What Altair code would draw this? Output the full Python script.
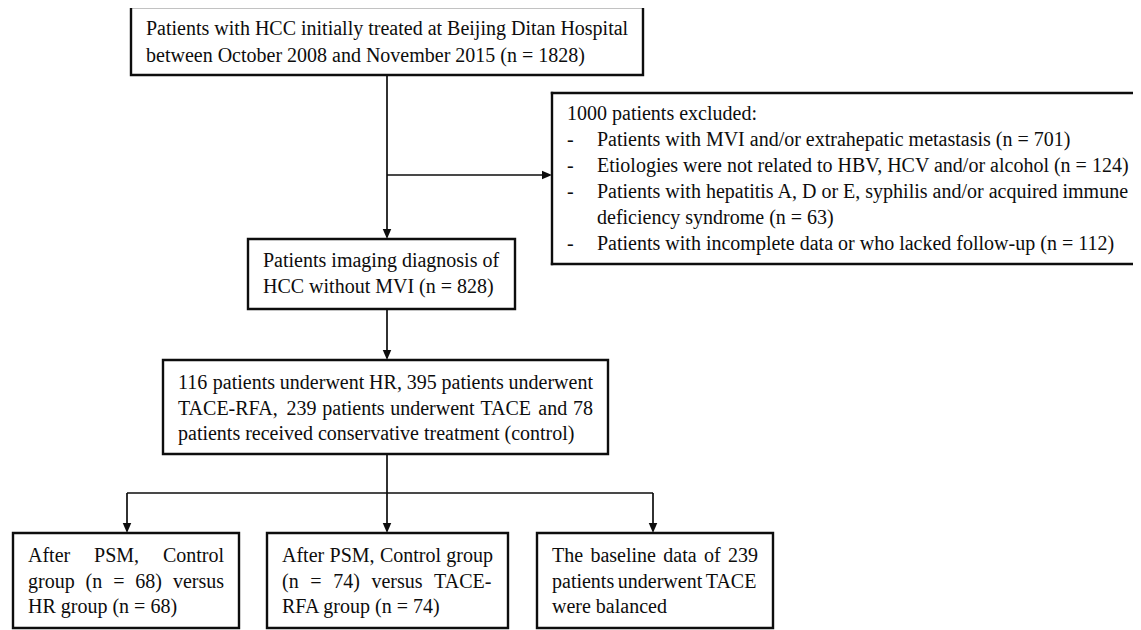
import altair as alt
import pandas as pd

FONT = "Liberation Serif"
FS = 20
FS_EXCL = 20

# ---------------- texts ----------------
box1_text = ["Patients with HCC initially treated at Beijing Ditan Hospital",
             "between October 2008 and November 2015 (n = 1828)"]
excl_title = "1000 patients excluded:"
excl_items = ["Patients with MVI and/or extrahepatic metastasis (n = 701)",
              "Etiologies were not related to HBV, HCV and/or alcohol (n = 124)",
              "Patients with hepatitis A, D or E, syphilis and/or acquired immune",
              "deficiency syndrome (n = 63)",
              "Patients with incomplete data or who lacked follow-up (n = 112)"]
excl_bullets = ["-", "-", "-", "", "-"]
box2_text = ["Patients imaging diagnosis of", "HCC without MVI (n = 828)"]
box3_text = ["116 patients underwent HR, 395 patients underwent",
             "TACE-RFA, 239 patients underwent TACE and 78",
             "patients received conservative treatment (control)"]
box4_text = ["After PSM, Control", "group (n = 68) versus", "HR group (n = 68)"]
box5_text = ["After PSM, Control group", "(n = 74) versus TACE-", "RFA group (n = 74)"]
box6_text = ["The baseline data of 239", "patients underwent TACE", "were balanced"]

# ---------------- layout (screen pixels) ----------------
# name, left, right, top, bottom, first baseline, line gap, justify all but last line
boxes = [
    ("box1", 131, 643, 7, 75, 35, 27, False, box1_text),
    ("box2", 248, 515, 239, 309, 267, 26, False, box2_text),
    ("box3", 163, 608, 360, 454, 389, 25.5, True, box3_text),
    ("box4", 13, 239, 533, 628, 562, 25.5, True, box4_text),
    ("box5", 267, 508, 533, 628, 562, 25.5, True, box5_text),
    ("box6", 537, 773, 533, 628, 562, 25.5, True, box6_text),
]
PW, PH = 1125, 622
# exclusion box runs off the right edge: left, right (page edge), top, bottom, baseline, gap
excl_box = (552, 8 + PW, 93, 264, 120, 26)
PAD = 15

segments = [(387, 75, 387, 232), (387, 175, 545, 175), (387, 309, 387, 353),
            (387, 454, 387, 526), (127, 493, 653, 493), (127, 493, 127, 526),
            (653, 493, 653, 526)]
down_tips = [(387, 239), (387, 360), (127, 533), (387, 533), (653, 533)]
right_tips = [(552, 175)]

# Times-compatible advance widths (per 1000 em)
W = {" ": 250, "(": 333, ")": 333, ",": 250, "-": 333, ".": 250, "/": 278, ":": 278,
     "=": 564, "A": 722, "B": 667, "C": 667, "D": 722, "E": 611, "F": 556, "G": 722,
     "H": 722, "I": 333, "M": 889, "N": 722, "O": 722, "P": 556, "R": 667, "S": 556,
     "T": 611, "V": 722, "a": 444, "b": 500, "c": 444, "d": 500, "e": 444, "f": 333,
     "g": 500, "h": 500, "i": 278, "j": 278, "k": 500, "l": 278, "m": 778, "n": 500,
     "o": 500, "p": 500, "q": 500, "r": 333, "s": 389, "t": 278, "u": 500, "v": 500,
     "w": 722, "x": 500, "y": 500, "z": 444}


def tw(s):
    return sum(W.get(c, 500) for c in s) * FS / 1000


rects, texts = [], []
for name, l, r, t, b, base, gap, just, lines in boxes:
    rects.append({"x0": l, "x1": r, "y0": t, "y1": b})
    left, width = l + PAD, (r - l) - 2 * PAD
    for i, line in enumerate(lines):
        y = base + i * gap
        if just and i < len(lines) - 1:
            words = line.split(" ")
            total = sum(tw(w) for w in words)
            g = (width - total) / (len(words) - 1)
            xx = left
            for w in words:
                texts.append({"x": xx, "y": y, "t": w, "fs": FS})
                xx += tw(w) + g
        else:
            texts.append({"x": left, "y": y, "t": line, "fs": FS})

el, er, et, eb, ebase, egap = excl_box
edges = [(el, et, er, et), (el, eb, er, eb), (el, et, el, eb)]
texts.append({"x": el + PAD, "y": ebase, "t": excl_title, "fs": FS_EXCL})
for i, (bul, item) in enumerate(zip(excl_bullets, excl_items)):
    y = ebase + (i + 1) * egap
    if bul:
        texts.append({"x": el + PAD, "y": y, "t": bul, "fs": FS_EXCL})
    texts.append({"x": el + PAD + 30, "y": y, "t": item, "fs": FS_EXCL})

rect_df = pd.DataFrame(rects)
text_df = pd.DataFrame(texts)
seg_df = pd.DataFrame(segments, columns=["x0", "y0", "x1", "y1"])
edge_df = pd.DataFrame(edges, columns=["x0", "y0", "x1", "y1"])
down_df = pd.DataFrame([{"x": x, "y": y - 5} for x, y in down_tips])
right_df = pd.DataFrame([{"x": x - 5, "y": y} for x, y in right_tips])

XS = alt.Scale(domain=[8, 8 + PW], nice=False, zero=False)
YS = alt.Scale(domain=[8, 8 + PH], nice=False, zero=False, reverse=True)
INK = "#0d0d0d"
BOX_W = 2.4

rect_layer = alt.Chart(rect_df).mark_rect(fill="white", stroke=INK, strokeWidth=BOX_W).encode(
    x=alt.X("x0:Q", scale=XS, axis=None), x2="x1:Q",
    y=alt.Y("y0:Q", scale=YS, axis=None), y2="y1:Q")

edge_layer = alt.Chart(edge_df).mark_rule(color=INK, strokeWidth=BOX_W, strokeCap="square").encode(
    x=alt.X("x0:Q", scale=XS, axis=None), x2="x1:Q",
    y=alt.Y("y0:Q", scale=YS, axis=None), y2="y1:Q")

seg_layer = alt.Chart(seg_df).mark_rule(color=INK, strokeWidth=1.7).encode(
    x=alt.X("x0:Q", scale=XS, axis=None), x2="x1:Q",
    y=alt.Y("y0:Q", scale=YS, axis=None), y2="y1:Q")

down_layer = alt.Chart(down_df).mark_point(
    shape="M-0.85,-1L0.85,-1L0,1Z", size=100, filled=True, fill=INK, opacity=1, strokeWidth=0).encode(
    x=alt.X("x:Q", scale=XS, axis=None), y=alt.Y("y:Q", scale=YS, axis=None))

right_layer = alt.Chart(right_df).mark_point(
    shape="M-1,-0.85L-1,0.85L1,0Z", size=100, filled=True, fill=INK, opacity=1, strokeWidth=0).encode(
    x=alt.X("x:Q", scale=XS, axis=None), y=alt.Y("y:Q", scale=YS, axis=None))

text_layer = alt.Chart(text_df).mark_text(
    align="left", baseline="alphabetic", font=FONT, color=INK).encode(
    x=alt.X("x:Q", scale=XS, axis=None), y=alt.Y("y:Q", scale=YS, axis=None), text="t:N",
    size=alt.Size("fs:Q", scale=None, legend=None))

chart = alt.layer(rect_layer, edge_layer, seg_layer, down_layer, right_layer, text_layer).properties(
    width=PW, height=PH, autosize="none", padding=0, background="white"
).configure_view(strokeWidth=0)

chart.save("out.html", embed_options={"renderer": "svg", "actions": False})
